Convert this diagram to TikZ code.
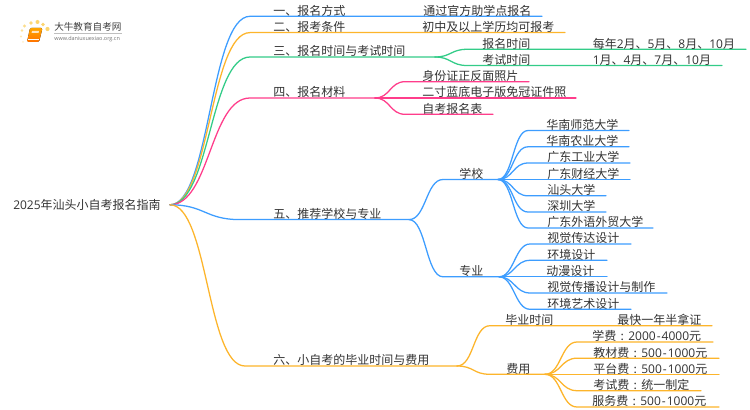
\documentclass[tikz,border=0pt]{standalone}
\usepackage{fontspec}
\setmainfont{Noto Sans CJK SC}
\newfontfamily\lat{Open Sans}
\usetikzlibrary{shadings}
\definecolor{cblue}{HTML}{3D9DFF}
\definecolor{corange}{HTML}{FDB52B}
\definecolor{cgreen}{HTML}{33CC88}
\definecolor{cpink}{HTML}{FF3D8B}
\definecolor{ctext}{HTML}{333333}
\definecolor{dotc}{HTML}{FCD56F}
\tikzset{
  lbl/.style={anchor=base west,inner sep=0pt,text=ctext,font=\fontsize{9pt}{9pt}\selectfont},
  wire/.style={line width=0.95pt,line cap=round,line join=round},
  sun/.style={fill=dotc,draw=none},
}
\newcommand{\num}[1]{{\lat #1}}
\newcommand{\rng}[2]{{\lat #1\kern.8pt-\kern.8pt#2}}
\newcommand{\cln}{\makebox[9pt][c]{:}}
% colour, parent, name, control offset, flat x, end x, y, text x, text
\newcommand{\br}[9]{%
  \coordinate (#3-in) at (#5,#7);
  \coordinate (#3-out) at (#6,#7);
  \node[lbl] (#3) at (#8,#7-1.2) {#9};
  \draw[wire,#1] (#2) .. controls +(#4,0) and +(-#4,0) .. (#3-in) -- (#3-out);
}
\begin{document}
\begin{tikzpicture}[x=0.75pt,y=-0.75pt]
\useasboundingbox (0,0) rectangle (750,410);
\fill[white] (0,0) rectangle (750,410);
% logo
\foreach \px/\py/\r/\o in {24.5/26/1.7/.8,31/23/1.9/.9,37.5/22/2/1,43/24.5/1.9/1,47.5/29/2.1/1,22/30.5/1.4/.7,21/36.5/1.2/.5,23/42/1/.35}
  \fill[sun,opacity=\o] (\px,\py) circle (\r);
\fill[top color=orange!70!yellow,bottom color=orange!90!red,rounded corners=1pt] (30,28) -- (42.5,28) -- (39,42) -- (27,42) -- cycle;
\draw[white,line width=0.4pt] (28,39.5) -- (39,39.5);
\fill[white,opacity=.75] (32,31) -- (39,31) -- (38.5,33) -- (31.5,33) -- cycle;
\node[lbl,font=\fontsize{7.2pt}{7.2pt}\selectfont,text=black!75] (logot) at (54,30.5) {大牛教育自考网};
\draw[black!25,line width=0.4pt] (54,33.5) -- (122,33.5);
\node[lbl,font=\lat\fontsize{4.1pt}{4.1pt}\selectfont,text=black!55] (logou) at (54,40.5) {www.daniuxuexiao.org.cn};
% root
\coordinate (root) at (170,204.8);
\node[lbl] (rootlabel) at (13,209.8) {\num{2025}年汕头小自考报名指南};
% level 1
\br{cblue}{root}{a}{40}{250}{542}{16.3}{273}{一、报名方式}
\node[lbl] (a1) at (423,15.1) {通过官方助学点报名};
\br{corange}{root}{b}{40}{250}{565}{32.6}{273}{二、报考条件}
\node[lbl] (b1) at (422,31.4) {初中及以上学历均可报考};
\br{cgreen}{root}{c}{40}{250}{435}{57}{273}{三、报名时间与考试时间}
\br{cpink}{root}{d}{40}{250}{375}{98}{273}{四、报名材料}
\br{cblue}{root}{e}{35}{240}{409}{219.6}{273}{五、推荐学校与专业}
\br{corange}{root}{f}{38}{245}{457}{366}{273}{六、小自考的毕业时间与费用}
% three
\br{cgreen}{c-out}{c1}{16}{467}{746}{49.3}{482}{报名时间}
\node[lbl] (c1v) at (592.5,48.1) {每年\num{2}月、\num{5}月、\num{8}月、\num{10}月};
\br{cgreen}{c-out}{c2}{16}{467}{722}{65.5}{482}{考试时间}
\node[lbl] (c2v) at (592.5,64.3) {\num{1}月、\num{4}月、\num{7}月、\num{10}月};
% four
\br{cpink}{d-out}{d1}{15}{405}{529}{81.7}{422}{身份证正反面照片}
\br{cpink}{d-out}{d2}{15}{405}{576}{98}{422}{二寸蓝底电子版免冠证件照}
\br{cpink}{d-out}{d3}{15}{405}{493}{114.3}{422}{自考报名表}
% five
\br{cblue}{e-out}{s}{17}{443}{498}{179.5}{459}{学校}
\br{cblue}{e-out}{m}{17}{443}{499}{276.8}{459}{专业}
\br{cblue}{s-out}{s1}{15}{528}{629}{130.5}{546}{华南师范大学}
\br{cblue}{s-out}{s2}{15}{528}{629}{146.8}{546}{华南农业大学}
\br{cblue}{s-out}{s3}{15}{528}{630}{163}{547}{广东工业大学}
\br{cblue}{s-out}{s4}{15}{528}{630}{179.5}{547}{广东财经大学}
\br{cblue}{s-out}{s5}{15}{528}{606}{195.8}{547}{汕头大学}
\br{cblue}{s-out}{s6}{15}{528}{606}{212}{547}{深圳大学}
\br{cblue}{s-out}{s7}{15}{528}{653}{228}{547}{广东外语外贸大学}
\br{cblue}{m-out}{m1}{15}{530}{631}{244}{547}{视觉传达设计}
\br{cblue}{m-out}{m2}{15}{530}{607}{260.3}{547}{环境设计}
\br{cblue}{m-out}{m3}{15}{530}{607}{276.8}{546}{动漫设计}
\br{cblue}{m-out}{m4}{15}{530}{667}{293}{547}{视觉传播设计与制作}
\br{cblue}{m-out}{m5}{15}{530}{631}{309.3}{547}{环境艺术设计}
% six
\br{corange}{f-out}{t}{17}{490}{712}{325.7}{505}{毕业时间}
\node[lbl] (t1) at (617,324.5) {最快一年半拿证};
\br{corange}{f-out}{u}{17}{490}{545}{374.3}{506}{费用}
\br{corange}{u-out}{u1}{16}{577}{713}{342}{592}{学费\cln\rng{2000}{4000}元}
\br{corange}{u-out}{u2}{16}{577}{719}{358.2}{593}{教材费\cln\rng{500}{1000}元}
\br{corange}{u-out}{u3}{16}{577}{719}{374.3}{593}{平台费\cln\rng{500}{1000}元}
\br{corange}{u-out}{u4}{16}{577}{701}{390.7}{593}{考试费\cln 统一制定}
\br{corange}{u-out}{u5}{16}{577}{719}{407}{592}{服务费\cln\rng{500}{1000}元}
\end{tikzpicture}
\end{document}
